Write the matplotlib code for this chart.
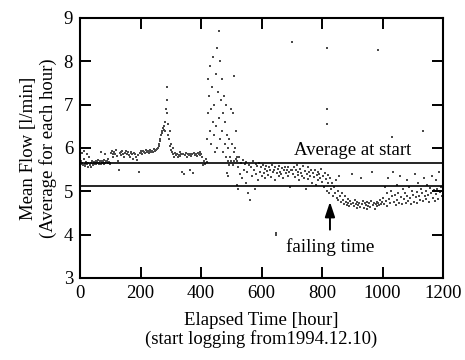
import matplotlib
matplotlib.use("Agg")
import matplotlib.pyplot as plt

plt.rcParams['font.family'] = ['Liberation Serif', 'DejaVu Serif']

# ---- data ----
hours = [
    2, 4, 6, 8, 10, 12, 14, 16, 18, 20, 22, 24, 26, 28, 30, 32, 34, 36, 38, 40,
    42, 44, 46, 48, 50, 52, 54, 56, 58, 60, 62, 64, 66, 68, 70, 72, 74, 76, 78, 80,
    82, 84, 86, 88, 90, 92, 94, 96, 98, 100,
    102, 105, 108, 110, 113, 116, 119, 122, 125, 128, 131, 134, 137, 140, 143, 146,
    149, 152, 155, 158, 161, 164, 167, 170, 173, 176, 179, 182, 185, 188, 191, 194,
    197, 200, 203, 206, 209, 212, 215, 218, 221, 224, 227, 230, 233, 236, 239, 242,
    245, 248, 251, 254, 257, 260,
    262, 264, 266, 268, 270, 272, 274, 276, 278, 280, 282, 284, 286, 287, 288, 290,
    292, 294, 296, 298, 300, 302, 304, 306,
    308, 311, 314, 317, 320, 323, 326, 329, 332, 335, 338, 341, 344, 347, 350, 353,
    356, 359, 362, 365, 368, 371, 374, 377, 380, 383, 386, 389, 392, 395, 398, 401,
    404, 407, 410, 413, 416, 419,
    420, 422, 424, 426, 428, 430, 432, 434, 436, 438, 440, 442, 444, 446, 448, 450,
    452, 454, 456, 458, 460, 462, 464, 466, 468, 470, 472, 474, 476, 478, 480, 482,
    484, 486, 488, 490, 492, 494, 496, 498, 500, 502, 504, 506, 508, 510, 512, 514,
    516, 518, 486, 490, 519, 522,
    520, 523, 526, 529, 532, 535, 538, 541, 544, 547, 550, 553, 556, 559, 562, 565,
    568, 571, 574, 577, 580, 583, 586, 589, 592, 595, 598, 601, 604, 607, 610, 613,
    616, 619, 622, 625, 628, 631, 634, 637, 640, 643, 646, 648, 650, 653, 656, 659,
    662, 665, 668, 671, 674, 677, 680, 683, 686, 689, 692, 695, 698,
    701, 704, 707, 710, 713, 716, 719, 722, 725, 728, 731, 734, 737, 740, 743, 746,
    749, 752, 755, 758, 761, 764, 767, 770, 773, 776, 779, 782, 785, 788, 791, 794,
    797, 800, 803, 806, 809, 812, 815, 818, 821, 824, 827, 830,
    833, 836, 839, 842, 845, 848, 851, 854, 857, 860, 863, 866, 869, 872, 875, 878,
    881, 884, 887, 890, 893, 896, 899, 902, 905, 908, 911, 914, 917, 920, 923, 926,
    929, 932, 935, 938, 941, 944, 947, 950, 953, 956, 959, 962, 965, 968, 971, 974,
    977, 980, 983, 986, 989, 992, 995, 998,
    1001, 1004, 1007, 1010, 1013, 1016, 1019, 1022, 1025, 1028, 1031, 1034, 1037,
    1040, 1043, 1046, 1049, 1052, 1055, 1058, 1061, 1064, 1067, 1070, 1073, 1076,
    1079, 1082, 1085, 1088, 1091, 1094, 1097, 1100, 1103, 1106, 1109, 1112, 1115,
    1118, 1121, 1124, 1127, 1130, 1133, 1136, 1139, 1142, 1145, 1148, 1151, 1154,
    1157, 1160, 1163, 1166, 1169, 1172, 1175, 1178, 1181, 1184, 1187, 1190, 1193,
    1196, 1199,
    700, 816, 985, 509, 816, 816, 1134, 1031, 648,
]
flow = [
    5.62, 5.70, 5.88, 5.66, 5.60, 5.75, 5.92, 5.64, 5.58, 5.68, 5.85, 5.62, 5.55, 5.66, 5.80, 5.60, 5.63, 5.57, 5.65, 5.70,
    5.62, 5.60, 5.67, 5.64, 5.66, 5.70, 5.62, 5.68, 5.65, 5.72, 5.66, 5.62, 5.69, 5.64, 5.90, 5.70, 5.66, 5.68, 5.63, 5.72,
    5.85, 5.66, 5.69, 5.67, 5.70, 5.74, 5.65, 5.68, 5.62, 5.66,
    5.88, 5.92, 5.85, 5.78, 5.90, 5.86, 5.95, 5.82, 5.70, 5.50, 5.88, 5.90, 5.84, 5.92, 5.87, 5.80,
    5.89, 5.93, 5.86, 5.90, 5.84, 5.78, 5.88, 5.91, 5.85, 5.75, 5.89, 5.86, 5.80, 5.72, 5.84, 5.45,
    5.88, 5.90, 5.92, 5.87, 5.94, 5.90, 5.88, 5.95, 5.91, 5.93, 5.89, 5.92, 5.96, 5.90, 5.94, 5.91,
    5.97, 5.93, 5.95, 5.98, 6.00, 6.05,
    6.10, 6.20, 6.15, 6.30, 6.40, 6.35, 6.45, 6.50, 6.42, 6.38, 6.60, 6.90, 7.10, 7.40, 6.80, 6.30,
    6.55, 6.20, 6.05, 6.40, 5.95, 6.10, 5.90, 6.00,
    5.85, 5.80, 5.88, 5.83, 5.86, 5.78, 5.84, 5.90, 5.82, 5.87, 5.45, 5.85, 5.40, 5.83, 5.88, 5.80,
    5.86, 5.84, 5.50, 5.87, 5.82, 5.85, 5.42, 5.89, 5.83, 5.86, 5.81, 5.88, 5.85, 5.90, 5.84, 5.87,
    5.80, 5.60, 5.70, 5.62, 5.75, 5.68,
    6.20, 7.60, 6.80, 7.20, 6.40, 7.90, 6.90, 6.10, 7.40, 6.60, 8.10, 6.30, 7.00, 5.90, 7.70, 6.50,
    8.30, 6.00, 7.30, 6.70, 8.70, 6.20, 8.00, 7.10, 6.40, 7.60, 5.90, 6.80, 7.20, 6.10, 6.60, 7.00,
    5.80, 6.30, 5.70, 6.00, 5.60, 6.20, 5.80, 6.90, 5.70, 6.10, 5.60, 6.80, 5.90, 5.70, 6.00, 5.75,
    6.40, 5.80, 5.42, 5.35, 5.15, 5.05,
    5.70, 5.55, 5.78, 5.40, 5.65, 5.30, 5.72, 5.50, 5.62, 5.20, 5.68, 5.45, 4.95, 5.60, 4.80, 5.55,
    5.35, 5.70, 5.48, 5.05, 5.62, 5.40, 5.58, 5.25, 5.66, 5.45, 5.55, 5.35, 5.60, 5.42, 5.52, 5.30,
    5.58, 5.46, 5.38, 5.55, 5.48, 5.33, 5.60, 5.44, 5.50, 5.25, 5.56, 4.00, 5.42, 5.52, 5.36, 5.58,
    5.45, 5.40, 5.53, 5.30, 5.48, 5.56, 5.42, 5.50, 5.35, 5.55, 5.44, 5.10, 5.50,
    5.50, 5.40, 5.55, 5.32, 5.48, 5.60, 5.38, 5.45, 5.25, 5.52, 5.42, 5.35, 5.58, 5.30, 5.46, 5.05,
    5.40, 5.55, 5.28, 5.44, 5.36, 5.50, 5.20, 5.42, 5.32, 5.48, 5.15, 5.38, 5.45, 5.25, 5.40, 5.30,
    5.52, 5.22, 5.35, 5.10, 5.42, 5.28, 5.00, 5.38, 5.18, 4.95, 5.30, 5.05,
    5.20, 4.90, 5.10, 4.95, 5.25, 4.85, 5.00, 4.80, 5.35, 4.90, 4.75, 4.95, 4.80, 4.70, 4.88, 4.75,
    4.68, 4.82, 4.72, 4.65, 4.78, 4.70, 5.40, 4.74, 4.66, 4.80, 4.70, 4.62, 4.76, 4.68, 4.72, 4.64,
    5.30, 4.70, 4.78, 4.62, 4.74, 4.68, 4.60, 4.75, 4.66, 4.72, 4.63, 4.78, 5.45, 4.68, 4.74, 4.60,
    4.70, 4.76, 4.65, 4.72, 4.68, 4.80, 4.70, 4.75,
    4.85, 4.70, 5.10, 4.78, 4.95, 4.65, 5.30, 4.82, 4.72, 5.00, 4.88, 5.45, 4.76,
    4.92, 4.68, 5.15, 4.80, 4.95, 4.74, 5.35, 4.86, 4.70, 5.05, 4.82, 4.96, 4.72,
    5.25, 4.88, 4.78, 5.10, 4.84, 4.70, 5.00, 4.92, 4.76, 5.40, 4.86, 4.98, 4.74,
    5.20, 4.90, 4.80, 5.05, 4.95, 4.78, 5.30, 4.88, 5.00, 4.82, 5.15, 4.92, 4.76,
    5.08, 4.96, 5.35, 4.85, 5.02, 4.78, 5.25, 4.94, 5.05, 4.82, 5.45, 4.98, 5.10,
    4.88, 5.20,
    8.45, 8.30, 8.26, 7.65, 6.90, 6.55, 6.40, 6.26, 4.03,
]
avg_start = 5.65
avg_after = 5.13
x_ticks = [0, 200, 400, 600, 800, 1000, 1200]
y_ticks = [3, 4, 5, 6, 7, 8, 9]
fail_hour = 826

fig = plt.figure(figsize=(4.65, 3.6), dpi=100)
ax = fig.add_axes([0.172, 0.228, 0.781, 0.722])

ax.scatter(hours, flow, s=1.5, c='#4a4a4a', linewidths=0, marker='s')
ax.axhline(avg_start, color='black', lw=1.2)
ax.axhline(avg_after, color='black', lw=1.2)

ax.set_xlim(0, 1200)
ax.set_ylim(3, 9)
ax.set_xticks(x_ticks)
ax.set_yticks(y_ticks)
ax.tick_params(direction='in', length=8, width=1.4, top=True, right=True,
               labelsize=13.5, pad=5)
for sp in ax.spines.values():
    sp.set_linewidth(1.5)

ax.text(902, 5.93, 'Average at start', ha='center', va='center', fontsize=13.5)
ax.text(fail_hour, 3.71, 'failing time', ha='center', va='center', fontsize=13.8)
ax.annotate('', xy=(fail_hour, 4.82), xytext=(fail_hour, 4.05),
            arrowprops=dict(arrowstyle='-|>,head_length=0.9,head_width=0.3',
                            color='black', lw=1.4))

ax.set_xlabel('Elapsed Time [hour]\n(start logging from1994.12.10)',
              fontsize=13.5, labelpad=7, linespacing=1.1)
ax.set_ylabel('Mean Flow [l/min]\n(Average for each hour)',
              fontsize=13.5, labelpad=5, linespacing=1.1)

fig.savefig('out.png', dpi=100, facecolor='white')
